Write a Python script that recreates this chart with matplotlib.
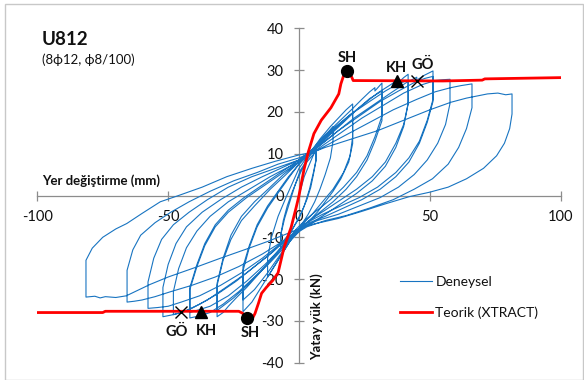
import matplotlib
matplotlib.use("Agg")
import matplotlib.pyplot as plt
from matplotlib.patches import Rectangle

plt.rcParams['font.family'] = ['Lato', 'DejaVu Sans']

# ---------------- data (displacement mm, load kN) ----------------
c01 = [(0, 0), (2, 4.5), (4, 7.5), (6.5, 11.2), (6.5, 8.3), (5.5, 5), (4.5, 2), (3, -1), (1, -4),
       (-2, -7.5), (-4.5, -10.5), (-7, -12.5), (-7, -9.5), (-6, -6), (-4.5, -2.5), (-2.5, 1), (-0.5, 4), (1, 6)]
c02 = [(3, 8), (5, 9.5), (6.5, 10.5), (6.5, 8.5), (5.5, 5.5), (4, 1.5), (2, -2.5), (0, -5.5), (-3, -8.5),
       (-5.5, -10.5), (-7, -11.5), (-7, -9.5), (-5.5, -5.5), (-3.5, -1.5), (-1.5, 2.5), (0.5, 6)]
c03 = [(3, 8.5), (6, 11), (9, 13.5), (11, 15), (13, 16.5), (13, 13), (12, 9), (10, 5), (8, 1.5), (6, -1.5),
       (3.5, -4.5), (1, -7), (-3, -10.5), (-6, -13.5), (-9, -16.5), (-12, -19.5), (-12, -15), (-10.5, -10),
       (-8, -5), (-5, -0.5), (-2.5, 3), (0, 6.5)]
c04 = [(4, 10), (8, 13.5), (12, 16.5), (15, 18.5), (18, 20.5), (20.5, 21.9), (20.5, 12.4), (19, 8), (16, 4),
       (13, 1), (10, -1.5), (7, -4), (4, -6), (1, -7.5), (-3, -10.5), (-7, -14.5), (-11, -18.5), (-15, -22.5),
       (-18, -25.5), (-21.4, -27.8), (-21.4, -17), (-19, -12), (-16, -7), (-12, -2.5), (-8, 1), (-4, 4.5), (0, 7.5)]
c05 = [(4, 10), (9, 13.5), (14, 16.5), (18, 18.5), (20.5, 19.8), (20.5, 14), (19.5, 9.5), (17, 5.5), (13, 1.5),
       (9, -1.5), (5, -4.5), (2, -6.5), (-2, -9.5), (-7, -14), (-12, -18.5), (-17, -22.5), (-21.4, -25),
       (-21.4, -18), (-19, -12.5), (-16, -7.5), (-12, -3), (-7, 1.5), (-3, 5), (0, 7.5)]
c06 = [(5, 11), (10, 14.5), (15, 17.5), (20, 20.5), (24, 23), (27, 24.8), (29, 25.8), (29, 25), (31.7, 26.9),
       (31.7, 17.9), (29, 13), (26, 8.5), (22, 4.5), (18, 1.5), (13, -1.5), (8, -4), (4, -6), (0, -8),
       (-5, -11.5), (-10, -15), (-15, -18.5), (-20, -22), (-24, -24.5), (-27, -26.5), (-29, -28), (-31.3, -29),
       (-31.3, -21), (-29, -15), (-26, -9.5), (-22, -5), (-17, -1.5), (-11, 2), (-6, 5), (0, 8)]
c07 = [(5, 10.5), (11, 14), (17, 17.5), (22, 20.5), (27, 23.2), (31.7, 25), (31.7, 19), (29, 14), (26, 9.5),
       (22, 5.5), (17, 2), (12, -1), (7, -3.5), (3, -5.5), (-1, -8), (-7, -12.5), (-13, -17), (-19, -21),
       (-25, -24.5), (-31.3, -27.5), (-31.3, -21.5), (-29, -15.5), (-26, -10.5), (-22, -6), (-17, -2.5),
       (-11, 1.5), (-5, 5), (0, 8)]
c08 = [(6, 11.5), (12, 15), (18, 18.5), (24, 21.5), (30, 24.5), (35, 26.5), (38, 27.8), (38, 27), (40, 28.2),
       (41.7, 29), (41.7, 21.9), (40, 16.5), (37, 11.5), (33, 7), (28, 3.5), (22, 0.5), (16, -2), (10, -4.5),
       (5, -6.5), (1, -8), (-5, -12), (-11, -16), (-17, -19.5), (-23, -23), (-29, -26), (-34, -28), (-38, -28.8),
       (-41.7, -29.3), (-41.7, -22), (-39, -16.5), (-36, -11.5), (-32, -7), (-27, -3.5), (-21, -0.5), (-14, 2.5),
       (-7, 5.5), (0, 8.5)]
c09 = [(6, 11.5), (13, 15.5), (20, 19.5), (27, 22.5), (33, 25), (38, 26.8), (41.7, 27.5), (41.7, 22), (40, 17),
       (37, 12.5), (33, 8), (28, 4.5), (22, 1.5), (16, -1), (10, -3.5), (5, -5.5), (1, -7.5), (-6, -12),
       (-13, -16.5), (-20, -20.5), (-27, -24), (-34, -26.5), (-41.7, -28), (-41.7, -22.5), (-39, -17), (-36, -12),
       (-32, -7.5), (-27, -4), (-20, -0.5), (-13, 2.5), (-6, 5.5), (0, 8)]
c10 = [(7, 11.5), (14, 15), (21, 18.5), (28, 21.5), (35, 24.5), (41, 27), (45, 28.3), (45, 27.6), (48, 28.8),
       (51.2, 29.8), (51.2, 22.5), (49, 17.5), (46, 12.5), (42, 8), (37, 4.5), (31, 1.5), (24, -1), (17, -3),
       (10, -5), (4, -6.5), (-3, -9.5), (-10, -13.5), (-17, -17), (-24, -20.5), (-31, -23.5), (-38, -26),
       (-44, -27.8), (-48, -28.5), (-52, -29), (-52, -22), (-50, -16.5), (-47, -11.5), (-43, -7.5), (-37, -4),
       (-30, -1), (-22, 2), (-14, 4.5), (-7, 6.5), (0, 8.5)]
c11 = [(7, 11.5), (15, 15.5), (23, 19), (31, 22.5), (38, 25), (44, 27), (48, 28), (51.2, 28.5), (51.2, 23),
       (49, 18), (46, 13), (42, 9), (37, 5.5), (30, 2), (23, -0.5), (16, -2.5), (9, -4.5), (3, -6.5), (-4, -10),
       (-12, -14.5), (-20, -18.5), (-28, -22), (-35, -25), (-41, -27), (-45, -28), (-48, -28.5), (-48, -23),
       (-46, -17.5), (-43, -12.5), (-39, -8.5), (-34, -5), (-27, -1.5), (-19, 1.5), (-11, 4.5), (-5, 6.5), (0, 8)]
c12 = [(8, 11.5), (16, 15), (24, 18.5), (32, 21.5), (40, 24.5), (47, 26.5), (52, 27.5), (55, 27.7), (57.7, 27.8),
       (57.7, 22), (56, 17), (53, 12.5), (49, 8.5), (44, 5), (38, 2), (31, -0.5), (23, -2.5), (15, -4.5), (7, -6),
       (2, -7.5), (-6, -11), (-14, -15), (-22, -18.5), (-30, -21.5), (-38, -24), (-45, -25.5), (-50, -26.5),
       (-54, -26.8), (-57.7, -27), (-57.7, -20.7), (-55.5, -15), (-52.5, -10.5), (-48, -7), (-42, -4), (-35, -1),
       (-27, 2), (-18, 4.5), (-9, 6.5), (0, 8.5)]
c13 = [(9, 11.5), (18, 14.5), (27, 17.5), (36, 20.5), (45, 23), (52, 24.8), (58, 25.8), (62, 26.3), (66.1, 26.7),
       (66.1, 21), (64, 16), (61, 11.5), (57, 7.5), (51, 4), (44, 1.5), (36, -1), (27, -3), (18, -4.8), (10, -6),
       (3, -7.5), (-5, -10.5), (-14, -14), (-23, -17), (-32, -19.5), (-41, -21.5), (-49, -23), (-55, -24.2),
       (-60, -25), (-63, -25.3), (-65.7, -25.5), (-65.7, -17.9), (-63.5, -13), (-60.5, -9.5), (-55, -6.5),
       (-49, -4), (-42, -1.5), (-34, 1), (-25, 3.5), (-16, 5.5), (-8, 7.5), (0, 9)]
c14 = [(10, 11.5), (20, 13.5), (30, 15.5), (40, 18), (50, 20.5), (58, 22.3), (64, 23.3), (68, 23.8), (72, 24.3),
       (76, 24.5), (79, 24.1), (81.4, 24.3), (81.4, 19.5), (80.5, 16), (78.5, 12.5), (75.5, 9.5), (70.5, 6.5),
       (64, 4), (57, 2), (50, 0.8), (42, -0.3), (33, -2), (24, -3.8), (15, -5.5), (8, -6.5), (3, -7.2), (-4, -9),
       (-12, -11), (-20, -12.8), (-30, -15), (-40, -17.3), (-50, -19.5), (-57, -21.3), (-62, -22.8), (-66, -24),
       (-70, -24.4), (-74, -24.2), (-76, -24.5), (-78, -24.1), (-81.4, -24.3), (-81.4, -15.5), (-79, -12.6),
       (-75, -10), (-70, -8), (-65.8, -6.7), (-60, -4.3), (-53, -1.5), (-46, 0), (-37, 2), (-27.6, 4.5),
       (-18, 6.5), (-9, 8.2), (0, 9.7), (4, 10.2)]
exp_cycles = [c01, c02, c03, c04, c05, c06, c07, c08, c09, c10, c11, c12, c13, c14]

theory_disp = [-100, -75, -74, -23, -21.5, -19.9, -18.1, -16.8, -15.5, -14.3, -12.5, -10, -8, -5.7, -3,
               -1.1, 0, 1.9, 3.6, 5.7, 8.5, 12.2, 15.2, 16, 17, 18.3, 20.1, 20.7, 55, 70, 71, 100]
theory_load = [-28.0, -28.0, -27.7, -27.7, -28.2, -29.3, -29.8, -28.2, -25.8, -23.4, -22.0, -20.3, -18.5, -12.4,
               -7.6, -2.9, 0, 6.2, 10.5, 14.8, 18.0, 21.0, 24.3, 26.7, 28.6, 29.8, 28.4, 27.5, 27.4, 27.6, 27.9, 28.2]

sh_pts = [(18.3, 29.8), (-19.9, -29.3)]
kh_pts = [(37.4, 27.4), (-37.4, -27.9)]
go_pts = [(45.1, 27.4), (-45.1, -27.9)]
point_labels = [("SH", 18.3, 32.9), ("KH", 37.4, 30.5), ("GÖ", 47.4, 31.3),
                ("GÖ", -46.6, -32.7), ("KH", -35.5, -32.4), ("SH", -18.7, -33.0)]

x_ticks = [-100, -50, 0, 50, 100]
y_ticks = [-40, -30, -20, -10, 0, 10, 20, 30, 40]

# ---------------- figure ----------------
W, H = 584, 380
fig = plt.figure(figsize=(W / 100, H / 100), dpi=100)
fig.patches.append(Rectangle((5 / W, 0.5 / H), (W - 6.5) / W, (H - 4.5) / H, transform=fig.transFigure,
                             fill=False, edgecolor='#c8c8c8', linewidth=1.0))

ax = fig.add_axes([37.3 / W, 1 - 362.7 / H, 523.4 / W, 334.4 / H])
ax.set_xlim(-100, 100)
ax.set_ylim(-40, 40)
ax.patch.set_alpha(0)

blue = '#1874c1'
ex, ey = [], []
for cyc in exp_cycles:
    for px, py in cyc:
        ex.append(px)
        ey.append(py)
line_exp, = ax.plot(ex, ey, color=blue, lw=0.8, zorder=2, label='Deneysel')
line_th, = ax.plot(theory_disp, theory_load, color='#ff0000', lw=2.0, zorder=3, label='Teorik (XTRACT)')

ax.plot([p[0] for p in sh_pts], [p[1] for p in sh_pts], 'o', color='black', ms=8.5, zorder=5)
ax.plot([p[0] for p in kh_pts], [p[1] for p in kh_pts], '^', color='black', ms=8, zorder=5)
ax.plot([p[0] for p in go_pts], [p[1] for p in go_pts], 'x', color='black', ms=8, mew=1.0, zorder=5)
for t, px, py in point_labels:
    ax.text(px, py, t, ha='center', va='center', fontsize=10.5, fontweight='bold', color='#111111', zorder=6)

for s in ['top', 'right']:
    ax.spines[s].set_visible(False)
ax.spines['left'].set_position(('data', 0))
ax.spines['bottom'].set_position(('data', 0))
for s in ['left', 'bottom']:
    ax.spines[s].set_color('#8c8c8c')
    ax.spines[s].set_linewidth(0.9)
    ax.spines[s].set_zorder(1)
ax.set_xticks(x_ticks)
ax.set_yticks(y_ticks)
ax.set_xticklabels([str(v) for v in x_ticks])
ax.set_yticklabels([str(v) for v in y_ticks])
ax.tick_params(axis='both', direction='inout', length=7, width=0.9, color='#8c8c8c',
               labelsize=10.5, labelcolor='#111111')
ax.tick_params(axis='x', pad=7)
ax.tick_params(axis='y', pad=7.5)

fig.text(42 / W, 1 - 45 / H, "U812", fontsize=13.5, fontweight='bold', ha='left', va='baseline', color='#111111')
fig.text(42 / W, 1 - 60 / H, "(8ϕ12, ϕ8/100)", fontsize=9.5, ha='left', va='center', color='#111111')
fig.text(42 / W, 1 - 181 / H, "Yer değiştirme (mm)", fontsize=9.5, fontweight='bold', ha='left', va='center',
         color='#111111')
fig.text(317 / W, 1 - 316.5 / H, "Yatay yük (kN)", fontsize=9.5, fontweight='bold', rotation=90,
         ha='center', va='center', color='#111111')

leg = ax.legend(handles=[line_exp, line_th], loc='upper left', bbox_to_anchor=(400 / W, 1 - 276 / H),
                bbox_transform=fig.transFigure, frameon=False, fontsize=10, borderaxespad=0, borderpad=0,
                handlelength=2.3, handletextpad=0.25, labelspacing=1.3)
for t in leg.get_texts():
    t.set_color('#111111')

fig.savefig("out.png", dpi=100)
